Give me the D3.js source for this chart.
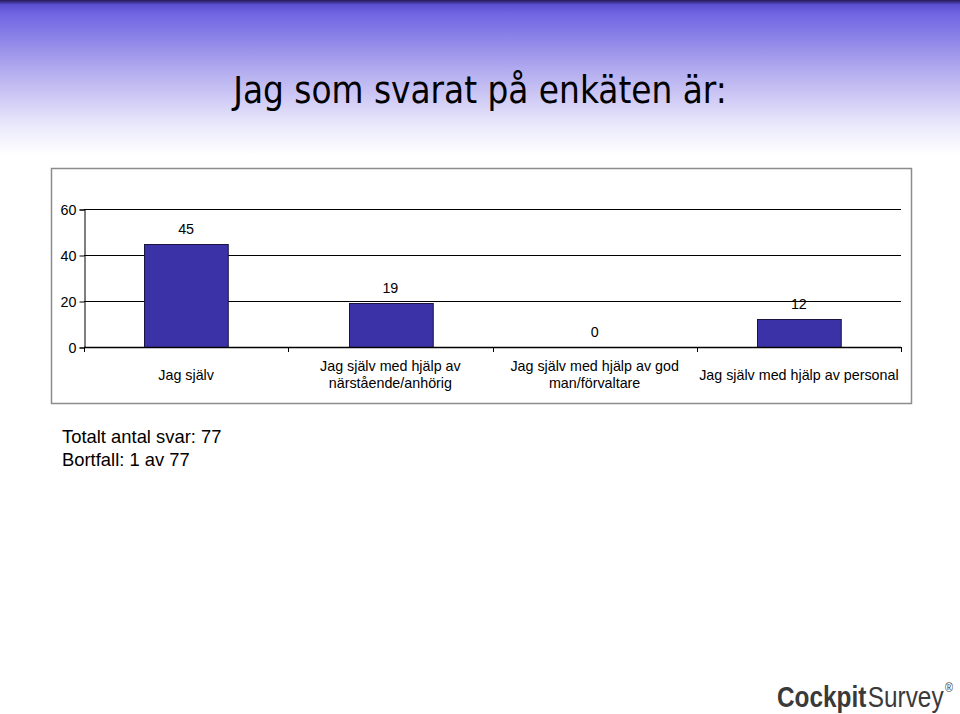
<!DOCTYPE html>
<html>
<head>
<meta charset="utf-8">
<script src="https://cdn.jsdelivr.net/npm/d3@7"></script>
<style>
  body { margin: 0; background: #fff; }
  svg { display: block; }
</style>
</head>
<body>
<div id="slide"></div>
<script>
// chart data
var categories = [
  ["Jag själv"],
  ["Jag själv med hjälp av", "närstående/anhörig"],
  ["Jag själv med hjälp av god", "man/förvaltare"],
  ["Jag själv med hjälp av personal"]
];
var answers = [45, 19, 0, 12];
var yTicks = [0, 20, 40, 60];
var title = "Jag som svarat på enkäten är:";
var footLines = ["Totalt antal svar: 77", "Bortfall: 1 av 77"];

var W = 960, H = 714;
var svg = d3.select("#slide").append("svg")
  .attr("width", W).attr("height", H);

// header gradient
var defs = svg.append("defs");
var grad = defs.append("linearGradient").attr("id", "head")
  .attr("x1", 0).attr("y1", 0).attr("x2", 0).attr("y2", 1);
grad.append("stop").attr("offset", "0%").attr("stop-color", "#241a55");
grad.append("stop").attr("offset", "3%").attr("stop-color", "#5a4ed0");
grad.append("stop").attr("offset", "8%").attr("stop-color", "#6f63e2");
grad.append("stop").attr("offset", "45%").attr("stop-color", "#b2abef");
grad.append("stop").attr("offset", "80%").attr("stop-color", "#e9e7fb");
grad.append("stop").attr("offset", "100%").attr("stop-color", "#ffffff");
svg.append("rect").attr("x", 0).attr("y", 0).attr("width", W).attr("height", 155)
  .attr("fill", "url(#head)");

svg.append("text")
  .attr("x", 480).attr("y", 103)
  .attr("text-anchor", "middle")
  .style("font-family", "'DejaVu Sans Condensed', 'DejaVu Sans'")
  .style("font-size", "36.5px")
  .attr("fill", "#000")
  .text(title);

// chart box
svg.append("rect")
  .attr("x", 51.5).attr("y", 168.5).attr("width", 860).attr("height", 235)
  .attr("fill", "#fff").attr("stroke", "#8c8c8c").attr("stroke-width", 1.5);

var margin = {left: 84, right: 901, top: 209, bottom: 347};

var x = d3.scaleBand()
  .domain(d3.range(categories.length))
  .range([margin.left, margin.right])
  .paddingInner(0.59).paddingOuter(0.295);

var y = d3.scaleLinear().domain([0, 60]).range([margin.bottom, margin.top]);

var g = svg.append("g");
var labelFont = "'Liberation Sans', Arial, sans-serif";
var labelSize = "14.3px";

// gridlines
g.selectAll("line.grid").data(yTicks.slice(1)).enter().append("line")
  .attr("x1", margin.left).attr("x2", margin.right)
  .attr("y1", function(d) { return Math.round(y(d)) + 0.5; })
  .attr("y2", function(d) { return Math.round(y(d)) + 0.5; })
  .attr("stroke", "#000").attr("stroke-width", 1);

// bars
g.selectAll("rect.bar").data(answers).enter().append("rect")
  .attr("x", function(d, i) { return Math.round(x(i)) + 0.5; })
  .attr("y", function(d) { return Math.round(y(d)) + 0.5; })
  .attr("width", x.bandwidth())
  .attr("height", function(d) { return Math.round(y(0)) - Math.round(y(d)); })
  .attr("fill", "#3c32a8").attr("stroke", "#1a1440").attr("stroke-width", 1)
  .style("display", function(d) { return d > 0 ? null : "none"; });

// y axis
var yAxis = d3.axisLeft(y).tickValues(yTicks).tickSize(5).tickPadding(3);
var ya = g.append("g")
  .attr("transform", "translate(" + (margin.left + 0.5) + ",0.5)")
  .call(yAxis);
ya.select(".domain").attr("stroke", "#000");
ya.selectAll("text").style("font-family", labelFont).style("font-size", labelSize).attr("fill", "#000");

// x axis baseline and category ticks
var xa = g.append("g");
xa.append("line")
  .attr("x1", margin.left).attr("x2", margin.right)
  .attr("y1", Math.round(y(0)) + 0.5).attr("y2", Math.round(y(0)) + 0.5)
  .attr("stroke", "#000").attr("stroke-width", 1.5);
var bounds = d3.range(categories.length + 1).map(function(i) {
  return margin.left + (margin.right - margin.left) * i / categories.length;
});
xa.selectAll("line.tick").data(bounds).enter().append("line")
  .attr("x1", function(d) { return Math.round(d) + 0.5; })
  .attr("x2", function(d) { return Math.round(d) + 0.5; })
  .attr("y1", y(0)).attr("y2", y(0) + 5)
  .attr("stroke", "#000");

// category labels
var cat = g.selectAll("text.cat").data(categories).enter().append("text")
  .attr("text-anchor", "middle")
  .style("font-family", labelFont).style("font-size", labelSize)
  .attr("fill", "#000");
cat.each(function(lines, i) {
  var t = d3.select(this);
  var cx = x(i) + x.bandwidth() / 2;
  var y0 = lines.length === 1 ? 380 : 371;
  lines.forEach(function(l, k) {
    t.append("tspan").attr("x", cx).attr("y", y0 + k * 17).text(l);
  });
});

// value labels
g.selectAll("text.val").data(answers).enter().append("text")
  .attr("x", function(d, i) { return x(i) + x.bandwidth() / 2; })
  .attr("y", function(d) { return y(d) - 10; })
  .attr("text-anchor", "middle")
  .style("font-family", labelFont).style("font-size", labelSize)
  .attr("fill", "#000")
  .text(function(d) { return d; });

// footnotes
svg.selectAll("text.foot").data(footLines).enter().append("text")
  .attr("x", 62).attr("y", function(d, i) { return 443 + i * 23; })
  .style("font-family", labelFont).style("font-size", "18.4px")
  .attr("fill", "#000")
  .text(function(d) { return d; });

// logo: squeezed horizontally, pieces laid out one after another
var logoParts = [
  {t: "Cockpit", size: 29, bold: true, dy: 0},
  {t: "Survey", size: 29, bold: false, dy: 0},
  {t: "®", size: 13, bold: false, dy: -15}
];
var squeeze = 0.84, lx = 777;
logoParts.forEach(function(p) {
  var t = svg.append("text")
    .attr("transform", "translate(" + lx + "," + (707 + p.dy) + ") scale(" + squeeze + ",1)")
    .style("font-family", labelFont).style("font-size", p.size + "px")
    .style("font-weight", p.bold ? "bold" : "normal")
    .attr("fill", "#3a3a3a")
    .text(p.t);
  lx += t.node().getComputedTextLength() * squeeze + 1.5;
});
</script>
</body>
</html>
